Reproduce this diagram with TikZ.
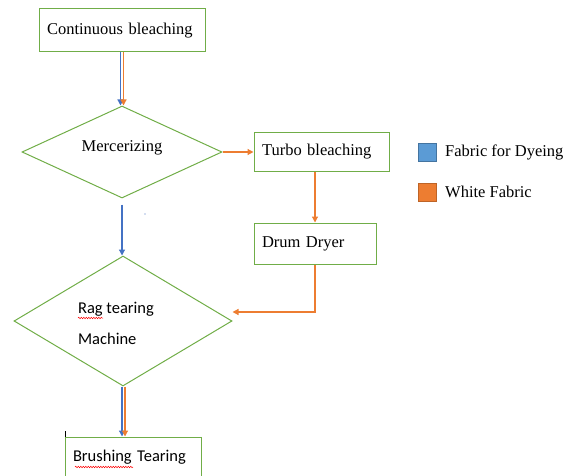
\documentclass[tikz,border=0pt]{standalone}
\usepackage{fontspec}
\setmainfont{Liberation Serif}
\newfontfamily\calibri{Carlito}
\usetikzlibrary{shapes.geometric,arrows.meta,decorations.pathmorphing}

\definecolor{boxgreen}{RGB}{112,173,71}
\definecolor{flowblue}{RGB}{68,114,196}
\definecolor{floworange}{RGB}{237,125,49}
\definecolor{legblue}{RGB}{91,155,213}

\tikzset{
    stepbox/.style={draw=boxgreen, line width=1pt, inner xsep=8pt, inner ysep=0pt, align=left,
        font=\fontsize{16.5}{19}\selectfont},
    decision/.style={diamond, draw=boxgreen, line width=1pt, inner sep=0pt},
    blueflow/.style={draw=flowblue, line width=1.2pt, -{Triangle[length=6pt,width=6pt]}},
    orangeflow/.style={draw=floworange, line width=1.2pt, -{Triangle[length=6pt,width=6pt]}},
    legendsq/.style={minimum size=18pt, inner sep=0pt, line width=0.8pt},
    squiggle/.style={draw=red, line width=0.5pt, decorate, decoration={snake, amplitude=0.7pt, segment length=2.5pt}}
}

\begin{document}
\begin{tikzpicture}[x=1pt, y=-1pt]
        \useasboundingbox (0,0) rectangle (570,476);
        \clip (0,0) rectangle (570,476);

        % Boxes
        \node[stepbox, text width=150pt, minimum height=43pt] (cont) at (122,30.5) {Continuous bleaching};
        \node[stepbox, text width=119pt, minimum height=38pt] (turbo) at (321.5,152) {Turbo bleaching};
        \node[stepbox, text width=106pt, minimum height=41pt] (drum) at (315,243.5) {Drum Dryer};
        \node[stepbox, text width=120pt, minimum height=41pt, font=\calibri\fontsize{16.5}{19}\selectfont] (brush) at (133,457.5) {Brushing Tearing};

        % Decisions
        \node[decision, minimum width=200pt, minimum height=92pt] (merc) at (122,152) {};
        \node[font=\fontsize{16.5}{19}\selectfont] (merctext) at (122,148) {Mercerizing};
        \node[decision, minimum width=218pt, minimum height=130pt] (rag) at (123,321) {};
        \node[align=left, font=\calibri\fontsize{16.5}{31}\selectfont] (ragtext) at (116,323) {Rag tearing\\Machine};

        % Spelling marks and cursor
        \draw[squiggle] (78,318) -- (103,318);
        \draw[squiggle] (75,467) -- (133,467);
        \draw[black, line width=0.6pt] (65,431) -- (65,437);
        \fill[flowblue] (145,214) circle (0.7pt);

        % Flow
        \draw[blueflow] ([xshift=-1.5pt]cont.south) -- ([xshift=-1.5pt]merc.north);
        \draw[orangeflow] ([xshift=1.5pt]cont.south) -- ([xshift=1.5pt]merc.north);
        \draw[orangeflow] (merc.east) -- (turbo.west);
        \draw[orangeflow] (turbo.south -| drum.north) -- (drum.north);
        \draw[blueflow] ([yshift=-6pt]merc.south) -- (merc.south |- rag.north);
        \draw[orangeflow] (drum.south) |- ([yshift=9pt]rag.east);
        \draw[blueflow] ([xshift=-1pt]rag.south) -- ([xshift=-1pt]rag.south |- brush.north);
        \draw[orangeflow] ([xshift=2pt]rag.south) -- ([xshift=2pt]rag.south |- brush.north);

        % Legend
        \node[legendsq, fill=legblue, draw=legblue!75!black] (sqdye) at (427.5,152.5) {};
        \node[anchor=west, inner sep=0pt, font=\fontsize{16.5}{19}\selectfont] (dye) at (445,152) {Fabric for Dyeing};
        \node[legendsq, fill=floworange, draw=floworange!80!black] (sqwhite) at (427.5,192.5) {};
        \node[anchor=west, inner sep=0pt, font=\fontsize{16.5}{19}\selectfont] (white) at (445,192) {White Fabric};
    \end{tikzpicture}
\end{document}
